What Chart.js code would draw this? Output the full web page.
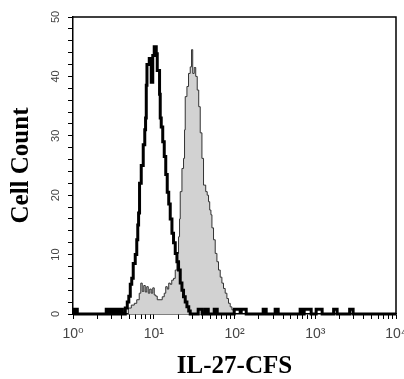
<!DOCTYPE html>
<html>
<head>
<meta charset="utf-8">
<script src="https://cdn.jsdelivr.net/npm/chart.js@4.4.0/dist/chart.umd.min.js"></script>
<style>
html, body { margin: 0; padding: 0; background: #fff; }
#wrap { width: 404px; height: 379px; }
</style>
</head>
<body>
<div id="wrap"><canvas id="histChart"></canvas></div>
<script>
// control (open, thick black outline): fluorescence intensity / cell count
var controlX = [1.00, 1.04, 1.13, 2.58, 2.81, 2.98, 3.24, 3.43, 3.64, 3.80, 4.07, 4.44, 4.70, 4.91,
    5.12, 5.34, 5.57, 5.90, 6.16, 6.34, 6.49, 6.67, 7.00, 7.41, 7.74, 7.92, 8.08, 8.24, 8.80,
    9.31, 9.72, 10.14, 10.74, 11.05, 11.80, 12.03, 12.38, 12.92, 13.49, 14.08, 14.69, 15.33,
    16.00, 16.80, 17.58, 18.46, 19.37, 20.28, 21.28, 22.34, 23.38, 24.54, 25.76, 27.12, 28.30,
    35.5, 39.8, 43.4, 47.3, 56.1, 61.1, 99.2, 117.6, 121.1, 139.6, 226.6, 246.9, 318.9, 347.4,
    650, 708, 729, 890, 1026, 1217, 1689, 1866, 2666, 2944, 10000];
var controlY = [0, 0.8, 0, 0.8, 0, 0.8, 0, 0.8, 0, 0.8, 0, 1, 2, 3,
    5, 6, 8.5, 10, 12.5, 15, 17, 22, 25, 28.5, 31, 33, 38.5, 42, 43,
    39, 43.5, 45, 43.8, 41, 37, 33, 31.5, 29, 26.5, 23.5, 20.5, 18.5,
    16, 13.6, 12, 10.2, 8.8, 7.4, 5.2, 4, 2.9, 2, 1.2, 0.5, 0,
    0.8, 0, 0.8, 0, 0.8, 0, 0.8, 0.3, 0.8, 0, 0.8, 0, 0.8, 0,
    0.8, 0, 0.8, 0, 0.8, 0, 0.8, 0, 0.8, 0, 0];

// IL-27 stained (grey filled)
var stainedX = [4.57, 4.84, 5.27, 5.74, 6.16, 6.61, 6.91, 7.20, 7.52, 7.85, 8.19, 8.55, 8.92,
    9.31, 9.72, 10.14, 10.59, 11.05, 12.74, 13.49, 14.08, 14.69, 15.33, 16.00, 16.71, 17.58,
    18.46, 19.37, 20.28, 20.86, 21.28, 22.34, 23.38, 24.06, 24.54, 25.76, 26.96, 28.30, 29.37,
    30.39, 31.71, 33.10, 34.55, 36.06, 37.63, 39.50, 41.34, 44.01, 45.93, 47.67, 49.33, 51.05,
    52.53, 54.98, 57.70, 60.57, 63.39, 66.53, 69.82, 73.08, 76.71, 80.52, 84.28, 88.47, 92.86, 97.18];
var stainedY = [0, 1, 1.5, 1.8, 2.4, 3.5, 5.2, 3.8, 4.8, 3.7, 4.6, 3.5, 4.2,
    3.5, 4.4, 3.2, 3.0, 2.4, 2.9, 3.5, 4.6, 4.2, 5.2, 5.0, 5.7, 6,
    7.4, 10.2, 13, 16, 20.6, 24.5, 26.2, 31, 36.6, 38.3, 40.5, 41.6, 44.5,
    40.5, 41.5, 40, 37.7, 34.9, 30.5, 26.2, 21.7, 20.6, 20, 18.9, 17.5, 16.7,
    14.5, 12.5, 10.2, 8.8, 7.4, 6.2, 5.2, 4.3, 3.5, 2.6, 1.8, 1.2, 0.7, 0];

var decadeTicks = [1, 10, 100, 1000, 10000];
var decadeLabels = ['10\u2070', '10\u00b9', '10\u00b2', '10\u00b3', '10\u2074'];

function toPoints(xs, ys) {
    return xs.map(function (x, i) { return { x: x, y: ys[i] }; });
}

// box round the plot (top and right edges)
var frame = {
    id: 'frame',
    afterDraw: function (chart) {
        var a = chart.chartArea, c = chart.ctx;
        c.save();
        c.strokeStyle = '#000';
        c.lineWidth = 1.5;
        c.beginPath();
        c.moveTo(a.left, a.top);
        c.lineTo(a.right, a.top);
        c.lineTo(a.right, a.bottom);
        c.stroke();
        c.restore();
    }
};

var ctx = document.getElementById('histChart').getContext('2d');
var histChart = new Chart(ctx, {
    type: 'line',
    data: {
        datasets: [{
            label: 'Control',
            data: toPoints(controlX, controlY),
            stepped: 'before',
            borderColor: '#000',
            borderWidth: 3,
            pointRadius: 0,
            fill: false,
            clip: 4
        }, {
            label: 'IL-27',
            data: toPoints(stainedX, stainedY),
            stepped: 'before',
            borderColor: '#333',
            borderWidth: 1,
            backgroundColor: '#d2d2d2',
            pointRadius: 0,
            fill: 'origin'
        }]
    },
    options: {
        responsive: true,
        maintainAspectRatio: false,
        animation: false,
        layout: { padding: { top: 17, right: 8, bottom: 0, left: 0 } },
        plugins: { legend: { display: false }, tooltip: { enabled: false } },
        scales: {
            x: {
                type: 'logarithmic',
                min: 1,
                max: 10000,
                afterBuildTicks: function (scale) {
                    var t = [];
                    decadeTicks.forEach(function (d, i) {
                        if (i < decadeTicks.length - 1) {
                            for (var m = 1; m < 10; m++) t.push({ value: d * m });
                        } else {
                            t.push({ value: d });
                        }
                    });
                    scale.ticks = t;
                },
                afterFit: function (scale) {
                    scale.height = 65;
                    scale.paddingLeft = 0;
                    scale.paddingRight = 0;
                },
                grid: { drawOnChartArea: false, color: '#000', tickLength: 5, tickWidth: 1 },
                border: { color: '#000', width: 1.5 },
                ticks: {
                    autoSkip: false,
                    maxRotation: 0,
                    padding: 7,
                    color: '#444',
                    font: { family: 'Arial, "Liberation Sans", "DejaVu Sans", sans-serif', size: 14 },
                    callback: function (v) {
                        var i = decadeTicks.indexOf(v);
                        return i >= 0 ? decadeLabels[i] : '';
                    }
                },
                title: {
                    display: true,
                    text: 'IL-27-CFS',
                    color: '#000',
                    padding: { top: 0, bottom: 0 },
                    font: { family: '"Liberation Serif", "Times New Roman", serif', size: 25, weight: 'bold', lineHeight: 1 }
                }
            },
            y: {
                min: 0,
                max: 50,
                afterFit: function (scale) {
                    scale.width = 73;
                },
                grid: { drawOnChartArea: false, color: '#000', tickLength: 5, tickWidth: 1 },
                border: { color: '#000', width: 1.5 },
                ticks: {
                    stepSize: 2,
                    autoSkip: false,
                    minRotation: 90,
                    maxRotation: 90,
                    crossAlign: 'center',
                    padding: 6,
                    color: '#444',
                    font: { family: 'Arial, "Liberation Sans", sans-serif', size: 11 },
                    callback: function (v) { return v % 10 === 0 ? String(v) : ''; }
                },
                title: {
                    display: true,
                    text: 'Cell Count',
                    color: '#000',
                    padding: { top: 9, bottom: 0 },
                    font: { family: '"Liberation Serif", "Times New Roman", serif', size: 25, weight: 'bold', lineHeight: 1 }
                }
            }
        }
    },
    plugins: [frame]
});
</script>
</body>
</html>
